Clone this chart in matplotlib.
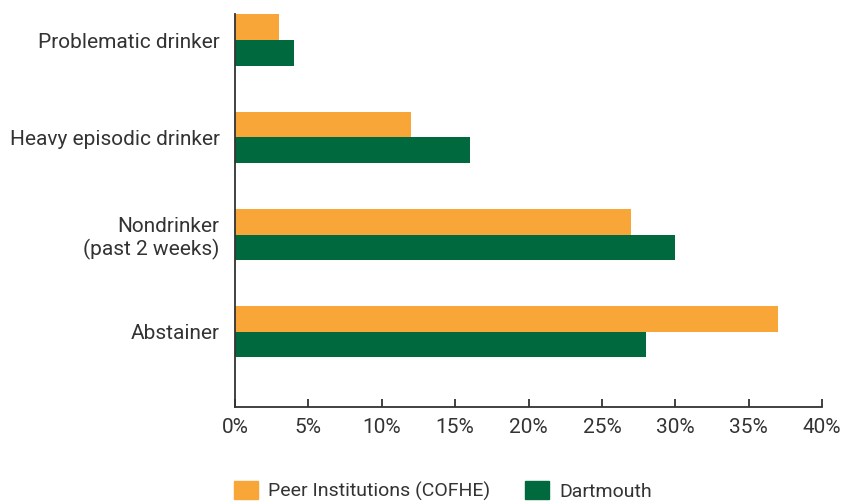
import matplotlib
matplotlib.use("Agg")
import matplotlib.pyplot as plt
import numpy as np
from matplotlib.patches import Patch
from matplotlib.ticker import FuncFormatter

categories = ["Problematic drinker", "Heavy episodic drinker", "Nondrinker\n(past 2 weeks)", "Abstainer"]
peer = [3, 12, 27, 37]
dartmouth = [4, 16, 30, 28]
series_names = ["Peer Institutions (COFHE)", "Dartmouth"]
xticks = [0, 5, 10, 15, 20, 25, 30, 35, 40]

peer_color = "#F9A638"
dart_color = "#00693E"
text_color = "#333333"

plt.rcParams['font.family'] = ['Roboto', 'DejaVu Sans']

fig = plt.figure(figsize=(8.44, 5.01), dpi=100)
ax = fig.add_axes([235/844, 1-407/501, (822-235)/844, (407-14)/501])

n = len(categories)
pos = np.arange(n)[::-1].astype(float)  # top category at highest y
h = 0.263
ax.barh(pos + h/2, peer, height=h, color=peer_color, label=series_names[0])
ax.barh(pos - h/2, dartmouth, height=h, color=dart_color, label=series_names[1])

ax.set_xlim(0, 40)
ax.set_ylim(-0.773, 3.268)
ax.set_xticks(xticks)
ax.xaxis.set_major_formatter(FuncFormatter(lambda v, p: f"{int(v)}%"))
ax.set_yticks(pos)
ax.set_yticklabels(categories, ha='right')

for s in ['top', 'right']:
    ax.spines[s].set_visible(False)
for s in ['left', 'bottom']:
    ax.spines[s].set_color(text_color)
    ax.spines[s].set_linewidth(1.3)

ax.tick_params(axis='x', direction='in', length=6, width=1.3, color=text_color,
               labelsize=15, labelcolor=text_color, pad=8)
ax.tick_params(axis='y', length=0, labelsize=15, labelcolor=text_color, pad=11)

handles = [Patch(color=peer_color), Patch(color=dart_color)]
fig.legend(handles, series_names, loc='lower left', bbox_to_anchor=(234/844, 0.0),
           ncol=2, frameon=False, fontsize=14, labelcolor=text_color,
           handlelength=1.24, handleheight=1.08, handletextpad=0.52,
           columnspacing=1.8, borderpad=0.0, borderaxespad=0.0)

fig.savefig("out.png", dpi=100)
